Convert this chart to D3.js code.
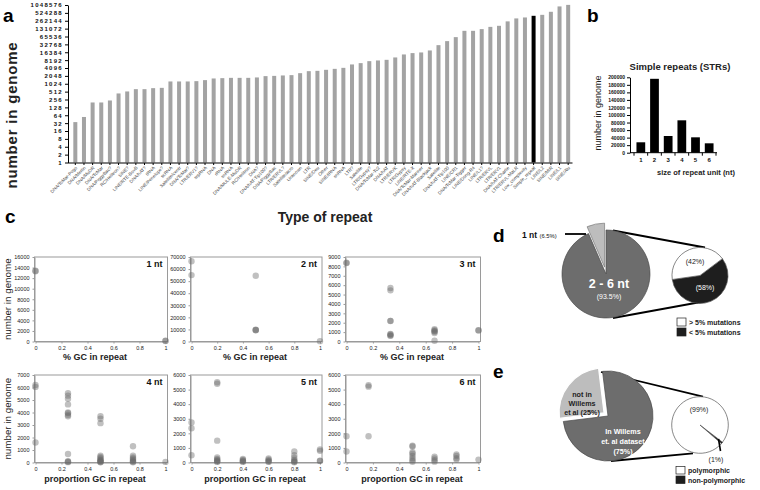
<!DOCTYPE html>
<html><head><meta charset="utf-8">
<script src="https://cdn.jsdelivr.net/npm/d3@7"></script>
<style>body{margin:0;background:#fff}</style>
</head><body><script>
// ---------------- DATA ----------------
const repeatTypes = ["DNA/TcMar-Pogo","DNA/Merlin","DNA/MuDR","DNA/TcMar","DNA/PiggyBac?","RC/Helitron?","SINE?","LINE/RTE-BovB","DNA/hAT?","tRNA","LINE/Penelope?","scRNA","Satellite/centr","DNA/TcMar?","LTR/ERV1?","srpRNA","DNA","rRNA","snRNA","DNA/MULE-MuDR","RC/Helitron","DNA?","DNA/hAT-Tip100?","DNA/PiggyBac","LTR/ERVL?","Satellite/acro","Unknown","LTR","SINE/Deu","Other","SINE/tRNA","snRNA","LTR?","Satellite","LTR/Gypsy?","DNA/TcMar-Tc2","DNA/hAT","LTR/ERVK","LTR/Gypsy","LINE/RTE-X","DNA/TcMar-Mariner","DNA/hAT-Blackjack","Satellite","DNA/hAT-Tip100","LINE/CR1","DNA/TcMar-Tigger","LINE/Dong-R4","LINE/L1?","LTR/ERVL","LTR/ERV1","DNA/hAT-Charlie","LTR/ERVL-MaLR","Low_complexity","Simple_repeat","LINE/L2","SINE/MIR","LINE/L1","SINE/Alu"];
const repeatCounts = [35,55,197,197,235,436,520,636,636,695,714,1253,1253,1253,1288,1408,1630,1677,1722,1722,1722,1783,2003,2048,2125,2185,2600,3100,3190,3490,3800,4150,5600,6290,7490,7960,8410,10370,13500,15200,16100,19200,30600,43600,62000,108000,108000,125600,153000,168000,248000,322000,350000,405000,441000,577000,925000,1060000];
const highlightType = "Simple_repeat";
const log2Ticks = [1,2,4,8,16,32,64,128,256,512,1024,2048,4096,8192,16384,32768,65536,131072,262144,524288,1048576];

const strSizes = [1,2,3,4,5,6];
const strCounts = [27600,196000,44300,85900,40800,24900];
const strTicks = [0,20000,40000,60000,80000,100000,120000,140000,160000,180000,200000];

const gc1 = [0,0,1,1];
const n1  = [13400,13300,150,100];
const gc2 = [0,0,0.5,0.5,0.5,0.5,1];
const n2  = [66500,55000,54500,9800,9500,9300,300];
const gc3 = [0,0,0.333,0.333,0.333,0.333,0.333,0.333,0.333,0.333,0.667,0.667,0.667,0.667,0.667,0.667,1,1];
const n3  = [8400,8350,5700,5450,2200,2180,800,750,650,600,1300,1200,1100,1050,900,80,1200,1180];
const gc4 = [0,0,0,0.25,0.25,0.25,0.25,0.25,0.25,0.25,0.25,0.25,0.25,0.25,0.25,0.5,0.5,0.5,0.5,0.5,0.5,0.5,0.5,0.5,0.5,0.5,0.5,0.75,0.75,0.75,0.75,0.75,0.75,0.75,0.75,1];
const n4  = [6200,6050,1600,5550,5350,5100,4650,4000,3950,3800,3700,680,100,60,30,3700,3500,3150,550,450,350,250,180,120,80,40,20,1300,550,400,300,200,120,60,20,50];
const gc5 = [0,0,0,0.2,0.2,0.2,0.2,0.2,0.2,0.2,0.2,0.2,0.4,0.4,0.4,0.4,0.4,0.6,0.6,0.6,0.6,0.6,0.8,0.8,0.8,0.8,0.8,0.8,0.8,1,1,1,1];
const n5  = [2750,2350,500,5500,5400,1500,350,250,180,120,80,40,250,180,120,80,40,280,200,130,80,40,750,500,320,180,100,50,20,900,800,120,100];
const gc6 = [0,0,0.167,0.167,0.167,0.5,0.5,0.5,0.5,0.5,0.5,0.5,0.5,0.667,0.667,0.667,0.667,0.833,0.833,0.833,0.833,1];
const n6  = [1800,750,5300,5200,1800,1150,1100,700,600,450,300,150,50,400,280,150,60,550,450,300,200,200];
const scatterNames = ["1 nt","2 nt","3 nt","4 nt","5 nt","6 nt"];
const scatterMax = [16000,70000,9000,7000,6000,6000];
const scatterStep = [2000,10000,1000,1000,1000,1000];
const scatterXTitles = ["% GC in repeat","% GC in repeat","% GC in repeat","proportion GC in repeat","proportion GC in repeat","proportion GC in repeat"];
const gcTicks = [0,0.2,0.4,0.6,0.8,1];

const dPieLabels = ["2 - 6 nt","1 nt"];
const dPieValues = [93.5,6.5];
const dMutLabels = ["< 5% mutations","> 5% mutations"];
const dMutValues = [58,42];
const ePieLabels = ["In Willems et. al dataset","not in Willems et al"];
const ePieValues = [75,25];
const ePolyLabels = ["non-polymorphic","polymorphic"];
const ePolyValues = [1,99];

// ---------------- DRAW ----------------
const FONT = '"Liberation Sans", Arial, Helvetica, sans-serif';
const svg = d3.select("body").append("svg").attr("width",760).attr("height",490)
  .attr("font-family",FONT);
const deg = Math.PI/180;

function txt(g,x,y,s,size,opts={}){
  const t=g.append("text").attr("x",x).attr("y",y).attr("font-size",size).text(s);
  if(opts.w) t.attr("font-weight",opts.w);
  if(opts.a) t.attr("text-anchor",opts.a);
  if(opts.f) t.attr("fill",opts.f);
  if(opts.ls) t.attr("letter-spacing",opts.ls);
  if(opts.rot) t.attr("transform",`rotate(${opts.rot},${x},${y})`);
  return t;
}
function styleAxis(ax,size,weight,fill,stroke){
  ax.attr("font-family",FONT);
  ax.selectAll("text").attr("font-size",size).attr("font-weight",weight||"normal").attr("fill",fill||"#222");
  ax.selectAll("line").attr("stroke",stroke||"#000");
  ax.select(".domain").attr("stroke",stroke||"#000");
}

// panel labels
[["a",3,22],["b",587,22],["c",5,223],["d",493,242],["e",493,378]].forEach(([l,x,y])=>txt(svg,x,y,l,19,{w:"bold"}));

// ---- Panel a ----
const gA = svg.append("g");
const yA = d3.scaleLog().base(2).domain([1,1048576]).range([162.5,5]);
const xA = d3.scaleBand().domain(d3.range(repeatTypes.length)).range([71,572.5]);
const axA = gA.append("g").attr("transform","translate(68,0)")
  .call(d3.axisLeft(yA).tickValues(log2Ticks).tickFormat(d3.format("d")).tickSize(3).tickSizeOuter(0).tickPadding(2));
styleAxis(axA,6,"bold","#111","#000");
axA.selectAll("text").attr("letter-spacing",1.3);
gA.selectAll("rect.bar").data(repeatCounts).join("rect").attr("class","bar")
  .attr("x",(d,i)=>xA(i)+xA.bandwidth()/2-2).attr("width",4)
  .attr("y",d=>yA(d)).attr("height",d=>yA(1)-yA(d))
  .attr("fill",(d,i)=>repeatTypes[i]===highlightType?"#000":"#a3a3a3");
const axAx = gA.append("g").attr("transform","translate(0,163)")
  .call(d3.axisBottom(xA).tickFormat(i=>repeatTypes[i]).tickSize(2).tickSizeOuter(0));
styleAxis(axAx,4.6,"normal","#444","#000");
axAx.select(".domain").remove();
gA.append("line").attr("x1",68).attr("x2",572.5).attr("y1",163).attr("y2",163).attr("stroke","#000");
axAx.selectAll("text").attr("x",0).attr("y",0).attr("dy","0.35em").attr("text-anchor","end")
  .attr("transform","translate(1,4) rotate(-45)");
txt(gA,325,222,"Type of repeat",14,{w:"bold",a:"middle",f:"#222"});
txt(gA,17,115,"number in genome",15,{w:"bold",a:"middle",f:"#222",ls:0.8,rot:-90});

// ---- Panel b ----
const gB = svg.append("g");
const yB = d3.scaleLinear().domain([0,200000]).range([152.7,77.3]);
const xB = d3.scaleBand().domain(strSizes).range([634,716]).paddingInner(0.36).paddingOuter(0.18);
const axB = gB.append("g").attr("transform","translate(630,0)")
  .call(d3.axisLeft(yB).tickValues(strTicks).tickFormat(d3.format("d")).tickSize(3).tickSizeOuter(0).tickPadding(2));
styleAxis(axB,5,"bold","#111","#000");
gB.selectAll("rect").data(strCounts).join("rect")
  .attr("x",(d,i)=>xB(strSizes[i])).attr("width",xB.bandwidth())
  .attr("y",d=>yB(d)).attr("height",d=>yB(0)-yB(d)).attr("fill","#000");
gB.append("line").attr("x1",630).attr("x2",717).attr("y1",yB(0)).attr("y2",yB(0)).attr("stroke","#000");
const stepB = xB.step();
strSizes.forEach((s,i)=>{
  const b = xB(s) - stepB*xB.paddingInner()/2;
  gB.append("line").attr("x1",b).attr("x2",b).attr("y1",yB(0)).attr("y2",yB(0)+3).attr("stroke","#000");
  txt(gB,xB(s)+xB.bandwidth()/2,161.5,String(s),6,{w:"bold",a:"middle",f:"#111"});
});
{const b=xB(6)+xB.bandwidth()+stepB*xB.paddingInner()/2;
 gB.append("line").attr("x1",b).attr("x2",b).attr("y1",yB(0)).attr("y2",yB(0)+3).attr("stroke","#000");}
txt(gB,680,70,"Simple repeats (STRs)",9.5,{w:"bold",a:"middle",f:"#222"});
txt(gB,696,174.5,"size of repeat unit (nt)",7.5,{w:"bold",a:"middle",f:"#222"});
txt(gB,601,113,"number in genome",9,{a:"middle",f:"#222",rot:-90});

// ---- Panel c ----
const gcs=[gc1,gc2,gc3,gc4,gc5,gc6], ns=[n1,n2,n3,n4,n5,n6];
const cLeft=[34.5,190.5,345.5], cRight=[167.5,322,480.5];
const cTop=[257,375], cBot=[341.5,462.5];
const cTitleX=[95,255,412], cTitleY=[360,482];
scatterNames.forEach((name,k)=>{
  const col=k%3,row=Math.floor(k/3);
  const L=cLeft[col],R=cRight[col],T=cTop[row],B=cBot[row];
  const g=svg.append("g");
  const x=d3.scaleLinear().domain([0,1]).range([L+1,R-2]);
  const y=d3.scaleLinear().domain([0,scatterMax[k]]).range([B,T]);
  g.append("rect").attr("x",L).attr("y",T).attr("width",R-L).attr("height",B-T)
    .attr("fill","none").attr("stroke","#9a9a9a").attr("stroke-width",1);
  const ay=g.append("g").attr("transform",`translate(${L},0)`)
    .call(d3.axisLeft(y).tickValues(d3.range(0,scatterMax[k]+1,scatterStep[k])).tickFormat(d3.format("d")).tickSize(2).tickSizeOuter(0).tickPadding(3));
  styleAxis(ay,5.5,"normal","#222","#9a9a9a");
  const ax=g.append("g").attr("transform",`translate(0,${B})`)
    .call(d3.axisBottom(x).tickValues(gcTicks).tickFormat(d3.format("~g")).tickSize(2).tickSizeOuter(0).tickPadding(3));
  styleAxis(ax,5.5,"normal","#222","#9a9a9a");
  g.selectAll("circle").data(gcs[k].map((v,i)=>[v,ns[k][i]])).join("circle")
    .attr("cx",d=>x(d[0])).attr("cy",d=>y(d[1])).attr("r",3.2)
    .attr("fill","#6a6a6a").attr("fill-opacity",0.42);
  txt(g,R-5,T+10,name,9,{w:"bold",a:"end",f:"#111"});
  txt(g,cTitleX[col],cTitleY[row],scatterXTitles[k],9,{w:"bold",a:"middle",f:"#222"});
  if(col===0) txt(g,10.5,(T+B)/2,"number in genome",9.8,{a:"middle",f:"#222",rot:-90});
});

// ---- Panel d ----
const gD = svg.append("g");
const arc = r=>d3.arc().innerRadius(0).outerRadius(r);
const dC=[606,274], dR=44;
const pd = d3.pie().sort(null)(dPieValues);
gD.append("line").attr("x1",613).attr("y1",230.5).attr("x2",705).attr("y2",247.5).attr("stroke","#000").attr("stroke-width",1.8);
gD.append("line").attr("x1",613).attr("y1",318).attr("x2",698).attr("y2",302.5).attr("stroke","#000").attr("stroke-width",1.8);
gD.append("path").attr("d",arc(dR)(pd[0])).attr("transform",`translate(${dC})`)
  .attr("fill","#6d6d6d").attr("stroke","#4a4a4a").attr("stroke-width",0.7);
{const m=(pd[1].startAngle+pd[1].endAngle)/2, off=7;
 gD.append("path").attr("d",arc(dR)(pd[1]))
  .attr("transform",`translate(${dC[0]+off*Math.sin(m)},${dC[1]-off*Math.cos(m)})`)
  .attr("fill","#bdbdbd").attr("stroke","#6a6a6a").attr("stroke-width",0.6);}
txt(gD,609,288,dPieLabels[0],12.5,{w:"bold",a:"middle",f:"#fff"});
txt(gD,609,299,"("+dPieValues[0]+"%)",7,{a:"middle",f:"#fff"});
{const t=txt(gD,522,237.5,dPieLabels[1]+" ",8.5,{w:"bold",f:"#111"});
 t.append("tspan").attr("font-size",5.8).attr("font-weight","normal").text("("+dPieValues[1]+"%)");}
gD.append("line").attr("x1",565).attr("x2",586).attr("y1",234).attr("y2",234).attr("stroke","#000").attr("stroke-width",1.8);
const dsC=[700,275.5], dsR=28;
const pm = d3.pie().sort(null).startAngle(53*deg).endAngle(413*deg)(dMutValues);
gD.selectAll("path.m").data(pm).join("path").attr("class","m").attr("d",arc(dsR))
  .attr("transform",`translate(${dsC})`).attr("fill",(d,i)=>i===0?"#1e1e1e":"#fff")
  .attr("stroke","#555").attr("stroke-width",0.7);
txt(gD,695,264,"("+dMutValues[1]+"%)",7,{a:"middle",f:"#222"});
txt(gD,705,290,"("+dMutValues[0]+"%)",7,{a:"middle",f:"#fff"});
[[dMutLabels[1],"#fff",318],[dMutLabels[0],"#1e1e1e",328]].forEach(([l,c,y])=>{
  gD.append("rect").attr("x",677).attr("y",y).attr("width",9).attr("height",8).attr("fill",c).attr("stroke","#222").attr("stroke-width",0.7);
  txt(gD,689,y+7,l,7,{w:"bold",f:"#222"});
});

// ---- Panel e ----
const gE = svg.append("g");
const eC=[608,416], eR=45;
const pe = d3.pie().sort(null).startAngle(-7*deg).endAngle(353*deg)(ePieValues);
gE.append("line").attr("x1",601).attr("y1",372).attr("x2",703).attr("y2",396.7).attr("stroke","#000").attr("stroke-width",1.8);
gE.append("line").attr("x1",611).attr("y1",461).attr("x2",693).attr("y2",453.3).attr("stroke","#000").attr("stroke-width",1.8);
gE.append("path").attr("d",arc(eR)(pe[0])).attr("transform",`translate(${eC})`)
  .attr("fill","#6d6d6d").attr("stroke","#4a4a4a").attr("stroke-width",0.7);
{const m=(pe[1].startAngle+pe[1].endAngle)/2, off=5;
 gE.append("path").attr("d",arc(eR)(pe[1]))
  .attr("transform",`translate(${eC[0]+off*Math.sin(m)},${eC[1]-off*Math.cos(m)})`)
  .attr("fill","#bdbdbd").attr("stroke","#fff").attr("stroke-width",1.2);}
["In Willems","et. al dataset","("+ePieValues[0]+"%)"].forEach((s,i)=>txt(gE,623,434+i*10,s,7.2,{w:"bold",a:"middle",f:"#fff"}));
["not in","Willems","et al ("+ePieValues[1]+"%)"].forEach((s,i)=>txt(gE,582,397+i*9,s,7.2,{w:"bold",a:"middle",f:"#222"}));
const esC=[700,425], esR=28.3;
const pp = d3.pie().sort(null).startAngle(127.4*deg).endAngle(487.4*deg)(ePolyValues);
gE.selectAll("path.p").data(pp).join("path").attr("class","p").attr("d",arc(esR))
  .attr("transform",`translate(${esC})`).attr("fill",(d,i)=>i===0?"#1e1e1e":"#fff")
  .attr("stroke",(d,i)=>i===0?"#1e1e1e":"#555").attr("stroke-width",0.7);
gE.append("line").attr("x1",718.5).attr("y1",439).attr("x2",720.5).attr("y2",451).attr("stroke","#000").attr("stroke-width",1.6);
txt(gE,699,411.5,"("+ePolyValues[1]+"%)",7,{a:"middle",f:"#222"});
txt(gE,716,462,"("+ePolyValues[0]+"%)",7,{a:"middle",f:"#222"});
[[ePolyLabels[1],"#fff",466.5],[ePolyLabels[0],"#1e1e1e",476]].forEach(([l,c,y])=>{
  gE.append("rect").attr("x",676).attr("y",y).attr("width",9).attr("height",7.5).attr("fill",c).attr("stroke","#222").attr("stroke-width",0.7);
  txt(gE,688,y+6.5,l,7,{w:"bold",f:"#222"});
});
</script></body></html>
